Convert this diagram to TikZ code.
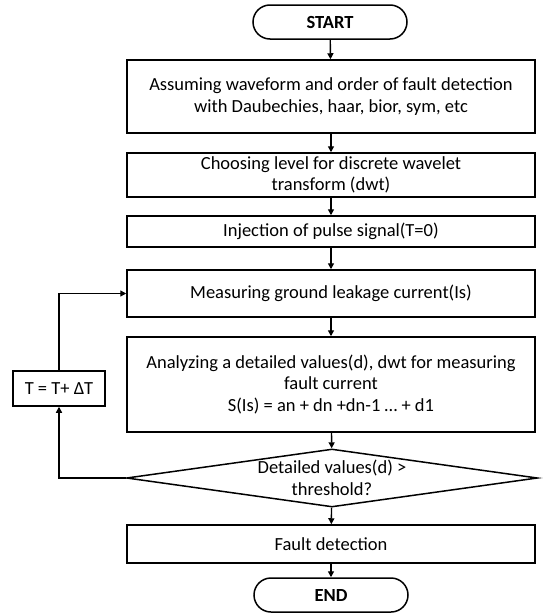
\documentclass[tikz,border=0pt]{standalone}
\usepackage{fontspec}
\setmainfont{Carlito}
\usetikzlibrary{shapes.geometric,arrows.meta}
\begin{document}
\begin{tikzpicture}[x=1pt,y=-1pt,
  every node/.style={font=\fontsize{18.5}{21.5}\selectfont},
  procbox/.style={draw,line width=1.5pt,minimum width=408pt,inner sep=0pt,align=center},
  termbox/.style={draw,line width=1.5pt,rounded corners=17pt,minimum width=154pt,minimum height=34pt,inner sep=0pt,font=\fontsize{18.5}{21.5}\selectfont\bfseries},
  arr/.style={line width=1.4pt,-{Triangle[length=6pt,width=6pt]}}]
\useasboundingbox (0,0) rectangle (542,613);
\node[termbox] (start) at (330,22) {START};
\node[procbox,minimum height=73pt] (b1) at (331,96.5) {Assuming waveform and order of fault detection\\with Daubechies, haar, bior, sym, etc};
\node[procbox,minimum height=44pt] (b2) at (331,175) {Choosing level for discrete wavelet\\transform (dwt)};
\node[procbox,minimum height=31pt] (b3) at (331,231.5) {Injection of pulse signal(T=0)};
\node[procbox,minimum height=47pt] (b4) at (331,293.5) {Measuring ground leakage current(Is)};
\node[procbox,minimum height=95pt] (b5) at (331,384.5) {Analyzing a detailed values(d), dwt for measuring\\fault current\\S(Is) = an + dn +dn-1 … + d1};
\node[diamond,draw,line width=1.5pt,minimum width=411pt,minimum height=58pt,inner sep=0pt] (dec) at (332,478) {};
\node[align=center,inner sep=0pt] (dectext) at (dec.center) {Detailed values(d) >\\threshold?};
\node[procbox,minimum height=38pt] (b6) at (331,544) {Fault detection};
\node[termbox] (end) at (331,595) {END};
\node[draw,line width=1.5pt,minimum width=92pt,minimum height=35pt,inner sep=0pt] (tbox) at (59,388.5) {T = T+ ΔT};
\draw[arr] (start) -- (b1);
\draw[arr] (b1) -- (b2);
\draw[arr] (b2) -- (b3);
\draw[arr] (b3) -- (b4);
\draw[arr] (b4) -- (b5);
\draw[arr] (b5) -- (dec);
\draw[arr] (dec) -- (b6);
\draw[arr] (b6) -- (end);
\draw[arr] (dec.west) -- (dec.west -| tbox.south) -- (tbox.south);
\draw[arr] (tbox.north) |- (b4.west);
\end{tikzpicture}
\end{document}
